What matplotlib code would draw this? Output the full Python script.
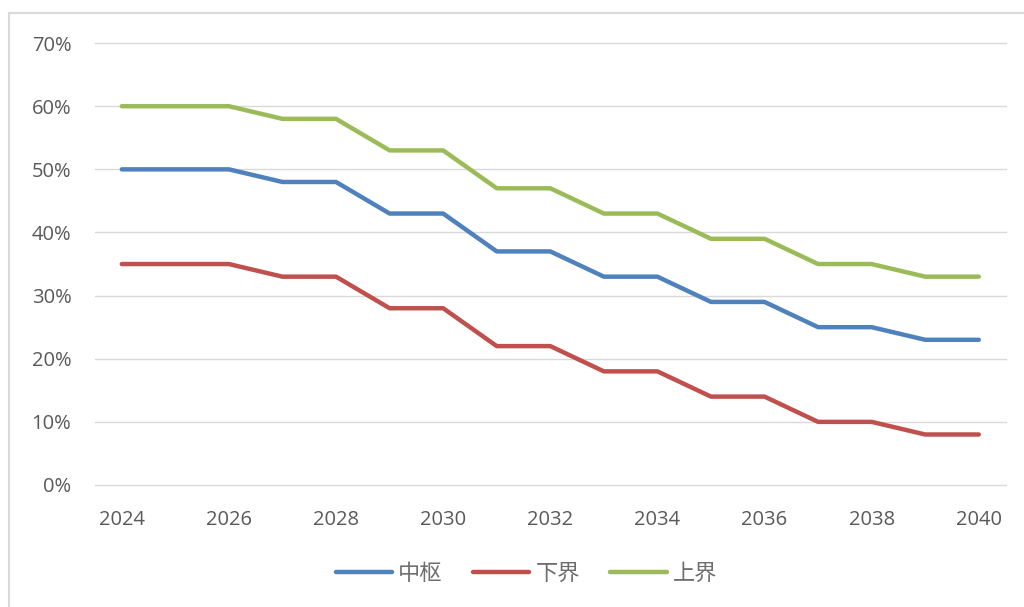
import matplotlib
matplotlib.use('Agg')
import matplotlib.pyplot as plt
from matplotlib.lines import Line2D

years = list(range(2024, 2041))
mid = [50, 50, 50, 48, 48, 43, 43, 37, 37, 33, 33, 29, 29, 25, 25, 23, 23]
low = [35, 35, 35, 33, 33, 28, 28, 22, 22, 18, 18, 14, 14, 10, 10, 8, 8]
high = [60, 60, 60, 58, 58, 53, 53, 47, 47, 43, 43, 39, 39, 35, 35, 33, 33]
names = ['中枢', '下界', '上界']
colors = ['#4F81BD', '#C0504D', '#9BBB59']

fig = plt.figure(figsize=(10.24, 6.07), dpi=100)
ax = fig.add_axes([0.0928, 0.201, 0.8892, 0.728])

for vals, c, n in zip([mid, low, high], colors, names):
    ax.plot(years, vals, color=c, lw=3.2, solid_capstyle='round', label=n)

ax.set_xlim(2023.5, 2040.5)
ax.set_ylim(0, 70)
ax.set_yticks(range(0, 71, 10))
ax.set_yticklabels([f'{v}%' for v in range(0, 71, 10)])
ax.set_xticks(years[::2])
ax.grid(axis='y', color='#D9D9D9', lw=1)
for gl in ax.get_ygridlines():
    gl.set_clip_on(False)
ax.set_axisbelow(True)
for s in ax.spines.values():
    s.set_visible(False)
ax.tick_params(length=0, labelsize=14.5, colors='#595959', labelfontfamily='Open Sans')
ax.tick_params(axis='y', pad=17)
ax.tick_params(axis='x', pad=18)

# chart area border (left and top only visible)
fig.add_artist(Line2D([0.009, 0.009], [0, 0.979], color='#D9D9D9', lw=1.5))
fig.add_artist(Line2D([0.009, 1.0], [0.979, 0.979], color='#D9D9D9', lw=1.5))

leg = fig.legend(loc='center', bbox_to_anchor=(0.514, 0.056), ncol=3, frameon=False,
                 handlelength=2.55, columnspacing=1.35, handletextpad=0.27,
                 prop={'family': ['Noto Sans CJK SC', 'DejaVu Sans'], 'size': 16})
for t in leg.get_texts():
    t.set_color('#6E6E6E')

fig.savefig('out.png', dpi=100)
